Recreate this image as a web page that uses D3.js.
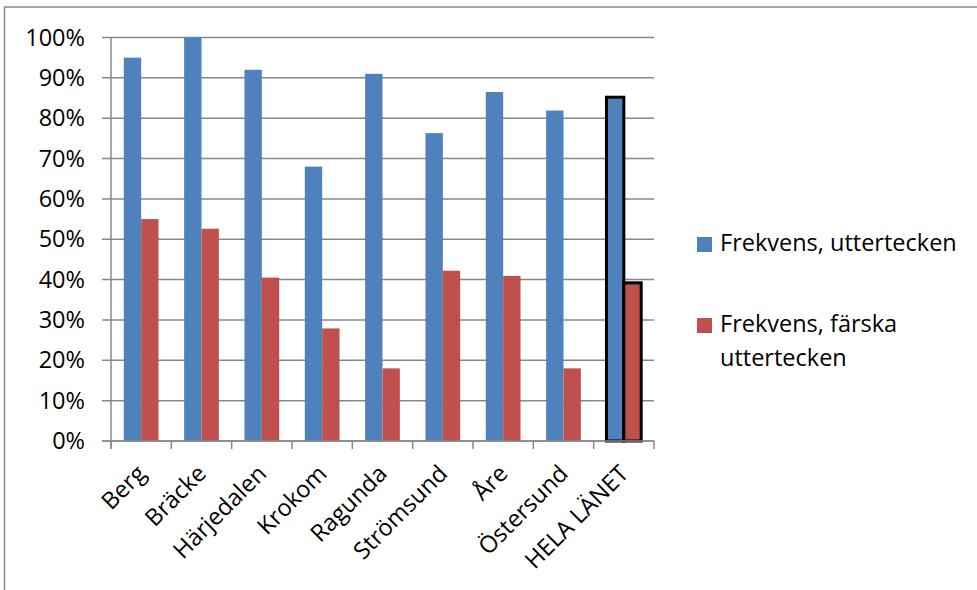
<!DOCTYPE html>
<html>
<head>
<meta charset="utf-8">
<script src="https://cdn.jsdelivr.net/npm/d3@7"></script>
<style>
  body { margin: 0; background: #fff; }
  text { font-family: "Open Sans", sans-serif; fill: #000; }
</style>
</head>
<body>
<div id="chart"></div>
<script>
const categories = ['Berg', 'Bräcke', 'Härjedalen', 'Krokom', 'Ragunda', 'Strömsund', 'Åre', 'Östersund', 'HELA LÄNET'];
const seriesNames = ['Frekvens, uttertecken', 'Frekvens, färska uttertecken'];
const uttertecken = [0.95, 1.00, 0.92, 0.68, 0.91, 0.763, 0.865, 0.819, 0.852];
const farska = [0.55, 0.526, 0.405, 0.279, 0.18, 0.422, 0.409, 0.18, 0.392];
const yTicks = [0, 0.1, 0.2, 0.3, 0.4, 0.5, 0.6, 0.7, 0.8, 0.9, 1.0];
const colors = ['#4F81BD', '#C0504D'];

const width = 977, height = 590;
const fs = '23.5px';
const svg = d3.select('#chart')
    .append('svg')
    .attr('width', width)
    .attr('height', height);

// outer frame
svg.append('rect')
    .attr('x', 4.5).attr('y', 7)
    .attr('width', 990).attr('height', 600)
    .attr('fill', 'none')
    .attr('stroke', '#888')
    .attr('stroke-width', 1.5);

const x0 = d3.scaleBand()
    .domain(categories)
    .range([111, 654]);

const x1 = d3.scaleBand()
    .domain([0, 1])
    .range([0, x0.bandwidth()])
    .paddingOuter(0.7375);

const y = d3.scaleLinear()
    .domain([0, 1])
    .range([441, 37.5]);

// gridlines
svg.append('g')
    .selectAll('line')
    .data(yTicks)
    .enter()
    .append('line')
    .attr('x1', 102).attr('x2', 654)
    .attr('y1', d => y(d)).attr('y2', d => y(d))
    .attr('stroke', '#888')
    .attr('stroke-width', 1.5);

// y labels
svg.append('g')
    .selectAll('text')
    .data(yTicks)
    .enter()
    .append('text')
    .attr('x', 85)
    .attr('y', d => y(d) + 8)
    .attr('text-anchor', 'end')
    .style('font-size', fs)
    .text(d => d3.format('.0%')(d));

// bars
const rows = categories.map((c, i) => ({ cat: c, vals: [uttertecken[i], farska[i]] }));
const groups = svg.append('g')
    .selectAll('g')
    .data(rows)
    .enter()
    .append('g')
    .attr('transform', d => `translate(${x0(d.cat)},0)`);

groups.selectAll('rect')
    .data(d => d.vals.map((v, k) => ({ k, v, hl: d.cat === 'HELA LÄNET' })))
    .enter()
    .append('rect')
    .attr('x', d => x1(d.k))
    .attr('width', x1.bandwidth())
    .attr('y', d => y(d.v))
    .attr('height', d => y(0) - y(d.v))
    .attr('fill', d => colors[d.k])
    .attr('stroke', d => d.hl ? '#000' : 'none')
    .attr('stroke-width', 3);

// axes lines
svg.append('line')
    .attr('x1', 111).attr('x2', 111)
    .attr('y1', y(1)).attr('y2', 449)
    .attr('stroke', '#888').attr('stroke-width', 1.5);
svg.append('line')
    .attr('x1', 102).attr('x2', 654)
    .attr('y1', y(0)).attr('y2', y(0))
    .attr('stroke', '#888').attr('stroke-width', 1.5);
svg.append('g')
    .selectAll('line')
    .data(categories.concat(['end']))
    .enter()
    .append('line')
    .attr('x1', (d, i) => 111 + i * x0.step())
    .attr('x2', (d, i) => 111 + i * x0.step())
    .attr('y1', y(0)).attr('y2', 449)
    .attr('stroke', '#888').attr('stroke-width', 1.5);

// category labels
svg.append('g')
    .selectAll('text')
    .data(categories)
    .enter()
    .append('text')
    .attr('text-anchor', 'end')
    .attr('transform', d => `translate(${x0(d) + x0.bandwidth() / 2 + 6},${475}) rotate(-45)`)
    .style('font-size', fs)
    .text(d => d);

// legend
const legend = svg.append('g');
legend.append('rect')
    .attr('x', 697).attr('y', 237)
    .attr('width', 15).attr('height', 15)
    .attr('fill', colors[0]);
legend.append('text')
    .attr('x', 720).attr('y', 251)
    .style('font-size', fs)
    .text(seriesNames[0]);
legend.append('rect')
    .attr('x', 697).attr('y', 318)
    .attr('width', 15).attr('height', 15)
    .attr('fill', colors[1]);
const t2 = legend.append('text')
    .style('font-size', fs);
t2.append('tspan').attr('x', 720).attr('y', 332).text('Frekvens, färska');
t2.append('tspan').attr('x', 720).attr('y', 366).text('uttertecken');
</script>
</body>
</html>
